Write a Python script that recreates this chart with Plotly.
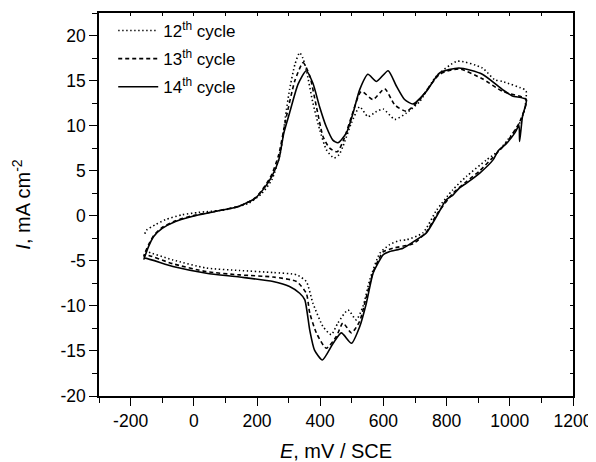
import plotly.graph_objects as go

# ---- data (E in mV vs SCE, I in mA cm^-2) ----
# 12th cycle (dotted)
E12 = [-155, -150, -122, -90, -37, 15, 100, 174, 216, 247, 274, 290, 303, 320, 335, 345, 356, 377, 398, 420, 444,
       460, 472, 499, 525, 551, 575, 599, 636, 673, 715, 768, 834, 913, 952, 977, 1047, 1052,
       1047, 1026, 994, 963, 926, 863, 820, 768, 725, 673, 652, 620, 589, 557, 535, 514, 488, 456, 435, 409, 377,
       356, 325, 251, 145, 40, -66, -150, -158]
I12 = [-2.0, -1.6, -1.0, -0.44, 0.11, 0.37, 0.67, 1.41, 2.5, 4.0, 7.0, 11.0, 14.0, 16.8, 18.1, 17.5, 16.2, 12.5, 9.6, 7.3, 6.4,
       6.8, 7.7, 10.3, 12.1, 11.0, 11.5, 11.85, 10.7, 11.4, 12.7, 15.5, 17.15, 16.4, 15.1, 14.9, 14.0, 13.8,
       11.8, 9.9, 8.45, 7.15, 6.2, 4.37, 2.9, 0.6, -1.9, -2.67, -2.75, -3.2, -4.15, -7.1, -10.1, -11.55, -10.45, -11.9, -13.2, -12.3, -9.7,
       -7.3, -6.55, -6.3, -6.07, -5.8, -4.9, -3.97, -3.9]

# 13th cycle (dashed)
E13 = [-158, -153, -143, -127, -100, -58, -6, 68, 142, 195, 227, 247, 269, 290, 320, 346, 367, 388, 409, 430, 454,
       475, 499, 530, 567, 604, 636, 673, 715, 778, 839, 913, 977, 1052,
       1031, 989, 947, 905, 863, 820, 768, 736, 694, 630, 599, 583, 567, 546, 525, 499, 472, 451, 419, 388, 367,
       356, 325, 251, 145, 40, -66, -150, -158]
I13 = [-4.45, -4.0, -3.2, -2.2, -1.3, -0.55, -0.02, 0.5, 1.05, 2.0, 3.4, 4.6, 6.8, 10.5, 15.0, 17.0, 15.5, 12.1, 8.8, 7.5, 7.1,
       8.5, 11.0, 13.8, 12.9, 14.1, 12.3, 11.6, 12.9, 15.7, 16.3, 15.2, 13.8, 12.9,
       10.4, 8.1, 6.5, 5.0, 3.8, 2.5, 0.1, -1.8, -3.1, -3.6, -4.0, -5.0, -6.3, -9.0, -11.7, -13.0, -11.9, -13.4, -14.7, -13.0, -10.8,
       -8.6, -7.3, -6.8, -6.56, -6.2, -5.33, -4.35, -4.45]

# 14th cycle (solid)
E14 = [-158, -153, -143, -127, -100, -58, -6, 68, 142, 195, 227, 247, 269, 285, 303, 330, 356, 377, 398, 419, 440, 456,
       483, 504, 525, 551, 578, 615, 641, 667, 694, 736, 778, 839, 913, 977, 1008, 1052,
       1040, 1031, 1029, 1016, 989, 963, 947, 905, 863, 841, 820, 799, 768, 736, 704, 662, 620, 599, 583, 567, 546,
       525, 499, 467, 441, 407, 382, 367, 351, 335, 303, 251, 145, 40, -66, -155, -158]
I14 = [-4.8, -4.33, -3.4, -2.3, -1.4, -0.63, -0.08, 0.48, 1.03, 1.97, 3.26, 4.37, 6.2, 9.2, 11.4, 14.6, 16.1, 14.7, 12.1, 9.9, 8.4, 8.1,
       9.2, 11.4, 14.0, 15.7, 14.9, 16.1, 14.4, 12.9, 12.4, 13.8, 15.85, 16.4, 15.7, 14.0, 13.3, 12.9,
       11.0, 8.25, 10.0, 9.2, 8.0, 7.2, 6.2, 4.74, 3.63, 3.1, 2.3, 1.78, -0.08, -1.9, -2.67, -3.6, -3.97, -4.33, -5.26, -6.4, -9.7,
       -12.3, -14.15, -13.0, -14.15, -16.0, -14.9, -12.7, -9.3, -8.6, -7.85, -7.3, -6.8, -6.37, -5.63, -4.7, -4.8]

names = ["12<sup>th</sup> cycle", "13<sup>th</sup> cycle", "14<sup>th</sup> cycle"]
dashes = ["1.4px,2.6px", "4px,3px", "solid"]

x_ticks = [-200, 0, 200, 400, 600, 800, 1000, 1200]
y_ticks = [-20, -15, -10, -5, 0, 5, 10, 15, 20]

FONT = "Liberation Sans, Arial, sans-serif"

fig = go.Figure()
for E, I, nm, d, g in zip([E12, E13, E14], [I12, I13, I14], names, dashes, ["a", "b", "c"]):
    fig.add_trace(go.Scatter(x=E, y=I, mode="lines", name=nm, legendgroup=g,
                             line=dict(color="black", width=1.6, dash=d, shape="spline", smoothing=0.6)))

# invisible trace to activate the mirrored (top/right) axes
fig.add_trace(go.Scatter(x=[None], y=[None], xaxis="x2", yaxis="y2", showlegend=False, hoverinfo="skip"))

axis_common = dict(showgrid=False, zeroline=False, showline=True, linecolor="black", linewidth=1.5,
                   tickfont=dict(family=FONT, size=17.5, color="black"), ticks="outside", ticklen=8,
                   tickwidth=1.3, tickcolor="black", automargin=False)

# the page body has an 8px default margin, so the figure is 588x454 placed at (8, 8)
fig.update_layout(
    width=588, height=454,
    margin=dict(l=91, r=23, t=5, b=66),
    paper_bgcolor="white", plot_bgcolor="white",
    font=dict(family=FONT, color="black"),
    showlegend=True,
    legend=dict(x=0.03, y=1.0, xanchor="left", yanchor="top", bgcolor="rgba(0,0,0,0)",
                font=dict(family=FONT, size=17), tracegroupgap=3, itemwidth=40),
    xaxis=dict(range=[-300, 1200], tickvals=x_ticks, ticktext=[str(v) for v in x_ticks],
               minor=dict(dtick=100, tick0=0, ticks="outside", ticklen=5, tickcolor="black", tickwidth=1.2),
               title=dict(text="<i>E</i>, mV / SCE", font=dict(family=FONT, size=20), standoff=16),
               **axis_common),
    yaxis=dict(range=[-20, 22.5], tickvals=y_ticks, ticktext=[str(v) for v in y_ticks],
               minor=dict(dtick=2.5, tick0=0, ticks="outside", ticklen=5, tickcolor="black", tickwidth=1.2),
               title=dict(text="<i>I</i>, mA cm<sup>-2</sup>", font=dict(family=FONT, size=20), standoff=24),
               **axis_common),
    xaxis2=dict(overlaying="x", side="top", range=[-300, 1200], dtick=100, tick0=0, ticks="inside", ticklen=3,
                tickcolor="black", showticklabels=False, showgrid=False, zeroline=False, automargin=False,
                showline=True, linecolor="black", linewidth=1.5),
    yaxis2=dict(overlaying="y", side="right", range=[-20, 22.5], dtick=2.5, tick0=0, ticks="inside", ticklen=3,
                tickcolor="black", showticklabels=False, showgrid=False, zeroline=False, automargin=False,
                showline=True, linecolor="black", linewidth=1.5),
)

fig.write_html("out.html")
